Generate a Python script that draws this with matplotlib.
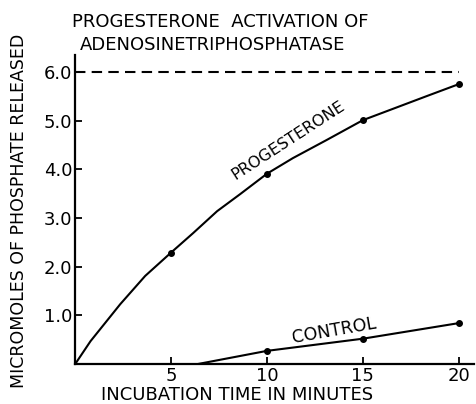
import matplotlib
matplotlib.use("Agg")
import matplotlib.pyplot as plt

# progesterone curve (dots at 5..20 min)
prog_t = [0, 0.8, 2.35, 3.65, 5, 6.15, 7.4, 8.6, 10, 11.35, 13.1, 15, 16.55, 18.3, 20]
prog_v = [0, 0.47, 1.23, 1.81, 2.29, 2.69, 3.14, 3.49, 3.91, 4.23, 4.6, 5.01, 5.24, 5.5, 5.75]
prog_dot_t = [5, 10, 15, 20]
prog_dot_v = [2.29, 3.91, 5.01, 5.75]

# control line starts off the axis at ~6.4 min
ctrl_t = [6.4, 10, 15, 20]
ctrl_v = [0, 0.27, 0.52, 0.84]
ctrl_dot_t = [10, 15, 20]
ctrl_dot_v = [0.27, 0.52, 0.84]

max_level = 6.0
x_ticks = [5, 10, 15, 20]
x_ticklabels = ["5", "10", "15", "20"]
y_ticks = [1, 2, 3, 4, 5, 6]
y_ticklabels = ["1.0", "2.0", "3.0", "4.0", "5.0", "6.0"]

plt.rcParams['font.family'] = ['DejaVu Sans']

fig = plt.figure(figsize=(4.76, 4.04), dpi=100)
ax = fig.add_axes([0.158, 0.099, 0.838, 0.765])

ax.plot(prog_t, prog_v, color='black', lw=1.5)
ax.plot(prog_dot_t, prog_dot_v, 'o', color='black', ms=4)
ax.plot(ctrl_t, ctrl_v, color='black', lw=1.5)
ax.plot(ctrl_dot_t, ctrl_dot_v, 'o', color='black', ms=4)
ax.plot([0, 20], [max_level, max_level], color='black', lw=1.5, ls=(0, (5, 3)))

ax.text(11.1, 4.6, "PROGESTERONE", rotation=33, ha='center', va='center', fontsize=11.5)
ax.text(13.5, 0.68, "CONTROL", rotation=10, ha='center', va='center', fontsize=12.5)

ax.set_xlim(0, 20.8)
ax.set_ylim(0, 6.35)
ax.spines['top'].set_visible(False)
ax.spines['right'].set_visible(False)
ax.spines['left'].set_linewidth(1.6)
ax.spines['bottom'].set_linewidth(1.6)
ax.set_xticks(x_ticks)
ax.set_xticklabels(x_ticklabels)
ax.set_yticks(y_ticks)
ax.set_yticklabels(y_ticklabels)
ax.tick_params(direction='in', length=5, width=1.3, labelsize=13, pad=2)

fig.text(0.040, 0.478, "MICROMOLES OF PHOSPHATE RELEASED", fontsize=12.5,
         rotation=90, ha='center', va='center')
fig.text(0.498, 0.022, "INCUBATION TIME IN MINUTES", fontsize=13, ha='center', va='center')

fig.text(0.151, 0.945, "PROGESTERONE  ACTIVATION OF", fontsize=13, ha='left', va='center')
fig.text(0.168, 0.888, "ADENOSINETRIPHOSPHATASE", fontsize=13, ha='left', va='center')

fig.savefig("out.png", dpi=100)
